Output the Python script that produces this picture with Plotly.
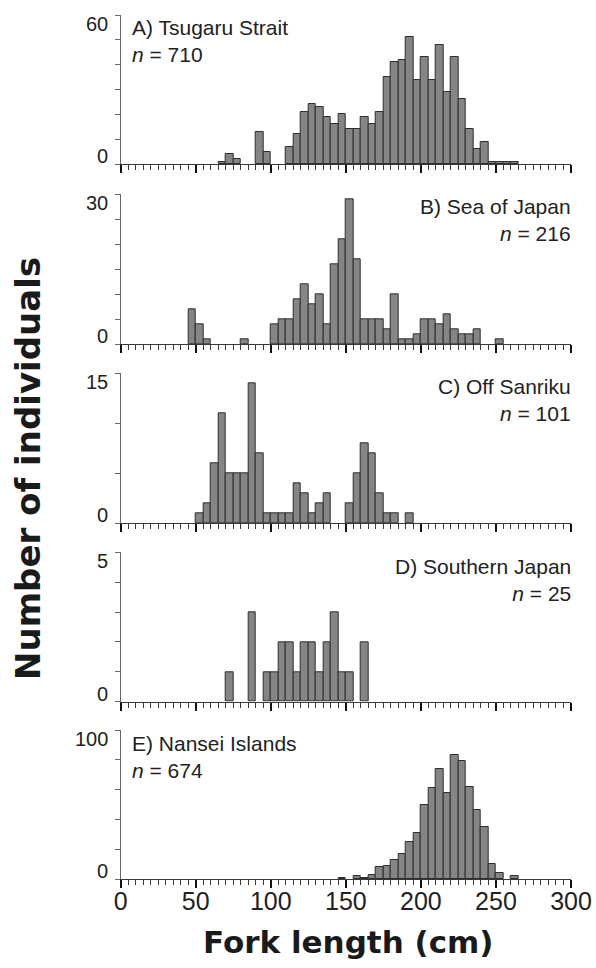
import plotly.graph_objects as go

# ---------------- data (5-cm fork-length bins) ----------------
bin_width = 5
x_ticks = [0, 50, 100, 150, 200, 250, 300]

A_label = "A) Tsugaru Strait"
A_n = 710
A_start = 65
A_counts = [1, 4, 2, 0, 0, 13, 5, 0, 0, 7, 12, 21, 24, 23, 19, 16, 20, 14, 14, 19,
            16, 21, 35, 41, 42, 51, 34, 43, 34, 48, 29, 43, 26, 14, 6, 9, 1, 1, 1, 1]
A_ymax, A_ystep = 60, 10

B_label = "B) Sea of Japan"
B_n = 216
B_start = 45
B_counts = [7, 4, 1, 0, 0, 0, 0, 1, 0, 0, 0, 4, 5, 5, 9, 12, 8, 10, 4, 16, 21, 29,
            17, 5, 5, 5, 3, 10, 1, 1, 2, 5, 5, 4, 6, 3, 2, 2, 3, 0, 0, 1]
B_ymax, B_ystep = 30, 5

C_label = "C) Off Sanriku"
C_n = 101
C_start = 50
C_counts = [1, 2, 6, 11, 5, 5, 5, 14, 7, 1, 1, 1, 1, 4, 3, 1, 2, 3, 0, 0, 2, 5, 8,
            7, 3, 1, 1, 0, 1]
C_ymax, C_ystep = 15, 5

D_label = "D) Southern Japan"
D_n = 25
D_start = 70
D_counts = [1, 0, 0, 3, 0, 1, 1, 2, 2, 1, 2, 2, 1, 2, 3, 1, 1, 0, 2]
D_ymax, D_ystep = 5, 1

E_label = "E) Nansei Islands"
E_n = 674
E_start = 145
E_counts = [1, 0, 2, 1, 3, 8, 9, 13, 17, 25, 31, 50, 61, 74, 58, 83, 79, 62, 46,
            35, 10, 4, 0, 2]
E_ymax, E_ystep = 100, 20

x_title = "Fork length (cm)"
y_title = "Number of individuals"

# ---------------- layout geometry ----------------
W, H = 596, 968
x_left_px, x_right_px = 120.7, 571.0
# (top px, baseline px, label side, label top px)
panel_geom = [
    (15.0, 164.0, "left", 15),
    (194.3, 344.0, "right", 194),
    (373.3, 523.3, "right", 374),
    (552.3, 701.7, "right", 554),
    (730.0, 879.0, "left", 731),
]

panels = [
    (A_label, A_n, A_start, A_counts, A_ymax, A_ystep),
    (B_label, B_n, B_start, B_counts, B_ymax, B_ystep),
    (C_label, C_n, C_start, C_counts, C_ymax, C_ystep),
    (D_label, D_n, D_start, D_counts, D_ymax, D_ystep),
    (E_label, E_n, E_start, E_counts, E_ymax, E_ystep),
]

FONT = "Liberation Sans, Arial, Helvetica, sans-serif"
AX_COLOR = "#3a3a3a"
BAR_FILL = "#858585"
BAR_LINE = "#2e2e2e"
TXT = "#222222"

fig = go.Figure()
annotations = []
xdom = [x_left_px / W, x_right_px / W]

for i, (label, n, start, counts, ymax, ystep) in enumerate(panels):
    k = "" if i == 0 else str(i + 1)
    top_px, base_px, side, label_top = panel_geom[i]
    ydom = [1 - base_px / H, 1 - top_px / H]

    xs = [start + bin_width * j + bin_width / 2 for j, c in enumerate(counts) if c > 0]
    ys = [c for c in counts if c > 0]
    fig.add_trace(go.Bar(
        x=xs, y=ys, width=bin_width,
        marker=dict(color=BAR_FILL, line=dict(color=BAR_LINE, width=1)),
        xaxis="x" + k, yaxis="y" + k, showlegend=False, hoverinfo="x+y",
    ))

    last = (i == len(panels) - 1)
    fig.layout["xaxis" + k] = dict(
        domain=xdom, anchor="y" + k, range=[0, 300], fixedrange=True,
        showline=True, linecolor=AX_COLOR, linewidth=1.2,
        showgrid=False, zeroline=False,
        ticks="outside", tickvals=x_ticks, ticklen=8, tickwidth=2.2,
        tickcolor="#111111",
        minor=dict(ticks="outside", dtick=5, tick0=0, ticklen=5, tickwidth=1,
                   tickcolor=AX_COLOR, showgrid=False),
        showticklabels=last, ticklabelstandoff=-8,
        tickfont=dict(family=FONT, size=25, color=TXT),
    )
    fig.layout["yaxis" + k] = dict(
        domain=ydom, anchor="x" + k, range=[0, ymax], fixedrange=True,
        showline=True, linecolor="#666666", linewidth=1.2,
        showgrid=False, zeroline=False,
        ticks="outside", tickvals=[0, ymax],
        ticklen=5, tickwidth=1, tickcolor="#666666",
        minor=dict(ticks="outside", dtick=ystep, tick0=0, ticklen=5, tickwidth=1,
                   tickcolor="#666666", showgrid=False),
        showticklabels=False,
    )

    # y-axis end labels (drawn inside the axis span, as in the reference)
    ylab_x = (x_left_px - 12) / W
    annotations.append(dict(
        text=str(ymax), xref="paper", yref="paper", x=ylab_x, y=1 - (top_px - 3) / H,
        xanchor="right", yanchor="top", showarrow=False, borderpad=0,
        font=dict(family=FONT, size=20, color=TXT),
    ))
    annotations.append(dict(
        text="0", xref="paper", yref="paper", x=ylab_x, y=1 - (base_px + 4) / H,
        xanchor="right", yanchor="bottom", showarrow=False, borderpad=0,
        font=dict(family=FONT, size=20, color=TXT),
    ))

    text = f"{label}<br><i>n</i> = {n}"
    if side == "left":
        annotations.append(dict(
            text=text, xref="paper", yref="paper",
            x=131 / W, y=1 - label_top / H, xanchor="left", yanchor="top",
            align="left", showarrow=False, borderpad=0,
            font=dict(family=FONT, size=21, color=TXT),
        ))
    else:
        annotations.append(dict(
            text=text, xref="paper", yref="paper",
            x=572 / W, y=1 - label_top / H, xanchor="right", yanchor="top",
            align="right", showarrow=False, borderpad=0,
            font=dict(family=FONT, size=21, color=TXT),
        ))

annotations.append(dict(
    text=f"<b>{x_title}</b>", xref="paper", yref="paper",
    x=348 / W, y=1 - 942 / H, xanchor="center", yanchor="middle",
    showarrow=False, font=dict(family="DejaVu Sans, sans-serif", size=31, color="#1a1a1a"),
))
annotations.append(dict(
    text=f"<b>{y_title}</b>", xref="paper", yref="paper",
    x=28 / W, y=1 - 469 / H, xanchor="center", yanchor="middle", textangle=-90,
    showarrow=False, font=dict(family="DejaVu Sans, sans-serif", size=34, color="#1a1a1a"),
))

fig.update_layout(
    width=W, height=H,
    margin=dict(l=0, r=0, t=0, b=0, autoexpand=False),
    paper_bgcolor="white", plot_bgcolor="white",
    annotations=annotations, bargap=0,
)

fig.write_html("out.html", config={"displayModeBar": False},
               post_script="document.body.style.margin='0';")
